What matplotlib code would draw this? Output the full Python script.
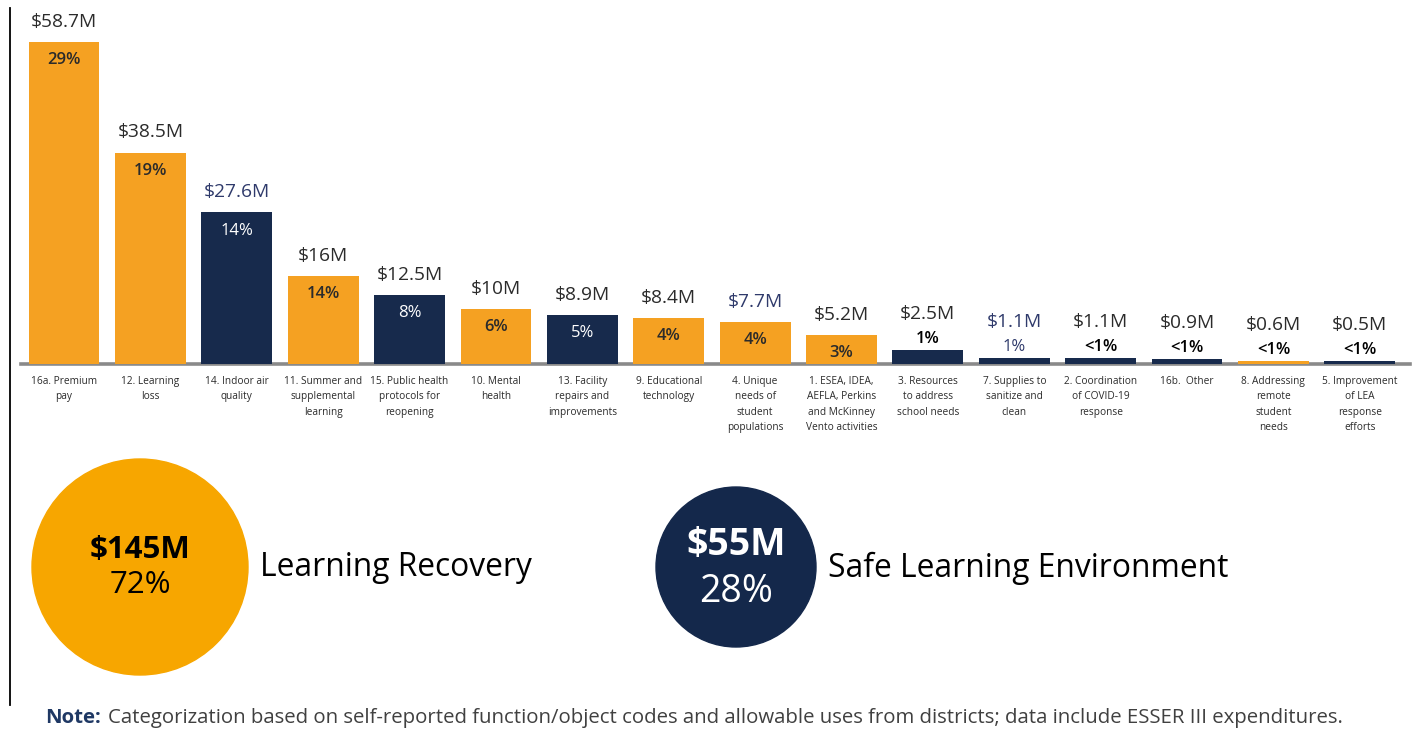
import matplotlib.pyplot as plt
from matplotlib.patches import Circle

plt.rcParams['font.family'] = ['Open Sans', 'DejaVu Sans']

categories = ["16a. Premium\npay", "12. Learning\nloss", "14. Indoor air\nquality",
              "11. Summer and\nsupplemental\nlearning", "15. Public health\nprotocols for\nreopening",
              "10. Mental\nhealth", "13. Facility\nrepairs and\nimprovements", "9. Educational\ntechnology",
              "4. Unique\nneeds of\nstudent\npopulations",
              "1. ESEA, IDEA,\nAEFLA, Perkins\nand McKinney\nVento activities",
              "3. Resources\nto address\nschool needs", "7. Supplies to\nsanitize and\nclean",
              "2. Coordination\nof COVID-19\nresponse", "16b.  Other",
              "8. Addressing\nremote\nstudent\nneeds", "5. Improvement\nof LEA\nresponse\nefforts"]
values = [58.7, 38.5, 27.6, 16, 12.5, 10, 8.9, 8.4, 7.7, 5.2, 2.5, 1.1, 1.1, 0.9, 0.6, 0.5]
money_labels = ["$58.7M", "$38.5M", "$27.6M", "$16M", "$12.5M", "$10M", "$8.9M", "$8.4M",
                "$7.7M", "$5.2M", "$2.5M", "$1.1M", "$1.1M", "$0.9M", "$0.6M", "$0.5M"]
pct_labels = ["29%", "19%", "14%", "14%", "8%", "6%", "5%", "4%",
              "4%", "3%", "1%", "1%", "<1%", "<1%", "<1%", "<1%"]
groups = ["LR", "LR", "SLE", "LR", "SLE", "LR", "SLE", "LR",
          "LR", "LR", "SLE", "SLE", "SLE", "SLE", "LR", "SLE"]

summary_names = ["Learning Recovery", "Safe Learning Environment"]
summary_money = ["$145M", "$55M"]
summary_pct = ["72%", "28%"]

orange = "#F5A122"
navy = "#172A4C"
dark = "#2b2b2b"
label_blue = "#2F3A6B"
colors = {"LR": orange, "SLE": navy}

fig = plt.figure(figsize=(14.16, 7.29), dpi=100)

# bar chart
ax = fig.add_axes([0.0147, 0.5007, 0.981, 0.4993])
x = list(range(len(values)))
ax.bar(x, values, width=0.82, color=[colors[g] for g in groups], zorder=2)
ax.set_xlim(-0.5, 15.58)
ax.set_ylim(0, 66.3)
ax.axhline(0, color="#8a8a8a", lw=2.6, zorder=1, clip_on=False)
for s in ax.spines.values():
    s.set_visible(False)
ax.set_yticks([])
ax.set_xticks(x)
ax.set_xticklabels(categories, fontsize=7.3, color=dark, linespacing=1.55)
ax.tick_params(axis='x', length=0, pad=8.5)

blue_money = {2, 8, 11}
for i, v in enumerate(values):
    mcol = label_blue if i in blue_money else dark
    if v >= 5:
        ax.annotate(money_labels[i], (i, v), xytext=(0, 14.5), textcoords="offset points",
                    ha="center", va="center", fontsize=13.8, color=mcol)
        if groups[i] == "SLE":
            ax.annotate(pct_labels[i], (i, v), xytext=(0, -13), textcoords="offset points",
                        ha="center", va="center", fontsize=12, color="white")
        else:
            ax.annotate(pct_labels[i], (i, v), xytext=(0, -13), textcoords="offset points",
                        ha="center", va="center", fontsize=12, color=dark, fontweight="semibold")
    else:
        ax.annotate(money_labels[i], (i, v), xytext=(0, 26), textcoords="offset points",
                    ha="center", va="center", fontsize=13.8, color=mcol)
        if i == 11:
            ax.annotate(pct_labels[i], (i, v), xytext=(0, 8), textcoords="offset points",
                        ha="center", va="center", fontsize=12, color=label_blue)
        else:
            ax.annotate(pct_labels[i], (i, v), xytext=(0, 8), textcoords="offset points",
                        ha="center", va="center", fontsize=12, color="black", fontweight="semibold")

# summary circles (pixel layout)
oax = fig.add_axes([0, 0, 1, 1], zorder=-1)
oax.set_xlim(0, 1416)
oax.set_ylim(729, 0)
oax.axis("off")
oax.plot([9.5, 9.5], [8, 705], color="black", lw=1.3)

circ_x = [140, 736]
circ_r = [108, 80]
circ_col = ["#F7A600", "#14284B"]
txt_col = ["black", "white"]
money_y = [550, 545]
pct_y = [585, 592]
fsz = [22.5, 27]
name_x = [260, 828]
for k in range(2):
    oax.add_patch(Circle((circ_x[k], 567), circ_r[k], color=circ_col[k]))
    oax.text(circ_x[k], money_y[k], summary_money[k], ha="center", va="center",
             fontsize=fsz[k], fontweight="bold", color=txt_col[k])
    oax.text(circ_x[k], pct_y[k], summary_pct[k], ha="center", va="center",
             fontsize=fsz[k], color=txt_col[k])
    oax.text(name_x[k], 568, summary_names[k], ha="left", va="center",
             fontsize=22.9, color="black")

oax.text(45, 718, "Note:", ha="left", va="center", fontsize=14.7, fontweight="bold", color="#1F3864")
oax.text(108, 718, "Categorization based on self-reported function/object codes and allowable uses "
         "from districts; data include ESSER III expenditures.",
         ha="left", va="center", fontsize=14.7, color="#404040")

fig.savefig("out.png", dpi=100)
